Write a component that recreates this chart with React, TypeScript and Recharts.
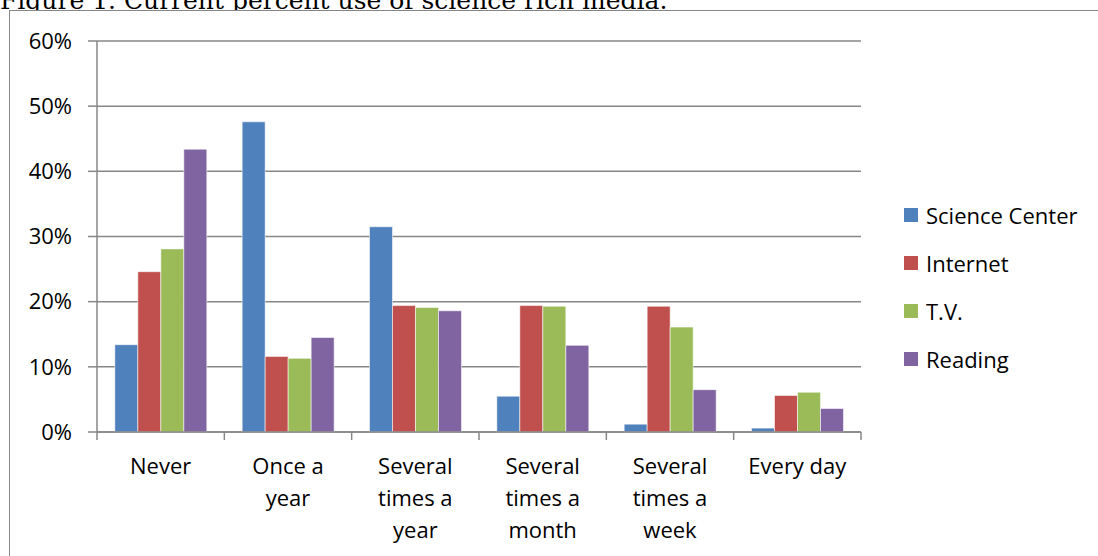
import { BarChart, Bar, XAxis, YAxis, CartesianGrid, Legend } from "recharts";

const categories = [
  "Never",
  "Once a year",
  "Several times a year",
  "Several times a month",
  "Several times a week",
  "Every day",
];
// label lines as wrapped in the original chart
const categoryLines = [
  ["Never"],
  ["Once a", "year"],
  ["Several", "times a", "year"],
  ["Several", "times a", "month"],
  ["Several", "times a", "week"],
  ["Every day"],
];

const scienceCenter = [13.4, 47.6, 31.5, 5.5, 1.2, 0.6];
const internet = [24.6, 11.6, 19.4, 19.4, 19.3, 5.6];
const tv = [28.1, 11.3, 19.1, 19.3, 16.1, 6.1];
const reading = [43.4, 14.5, 18.6, 13.3, 6.5, 3.6];

const yTicks = [0, 10, 20, 30, 40, 50, 60];

const series = [
  { key: "scienceCenter", name: "Science Center", color: "#4F81BD" },
  { key: "internet", name: "Internet", color: "#C0504D" },
  { key: "tv", name: "T.V.", color: "#9BBB59" },
  { key: "reading", name: "Reading", color: "#8064A2" },
];

const data = categories.map((c, i) => ({
  category: c,
  scienceCenter: scienceCenter[i],
  internet: internet[i],
  tv: tv[i],
  reading: reading[i],
}));

const FONT = "'Open Sans', Lato, sans-serif";
const GRAY = "#878787";

const XTick = (props: any) => {
  const { x, y, payload, index } = props;
  const half = payload.offset ?? 0;
  const lines = categoryLines[index] || [payload.value];
  return (
    <g>
      <line x1={x - half} x2={x - half} y1={y} y2={y + 8} stroke={GRAY} strokeWidth={1.5} />
      {index === categories.length - 1 && (
        <line x1={x + half} x2={x + half} y1={y} y2={y + 8} stroke={GRAY} strokeWidth={1.5} />
      )}
      <text x={x} y={y} textAnchor="middle" fontSize={22} fontFamily={FONT} fill="#000">
        {lines.map((l: string, i: number) => (
          <tspan key={i} x={x} dy={i === 0 ? 42 : 32}>
            {l}
          </tspan>
        ))}
      </text>
    </g>
  );
};

const LegendContent = () => (
  <div style={{ fontFamily: FONT, fontSize: 22, color: "#000" }}>
    {series.map((s) => (
      <div key={s.key} style={{ display: "flex", alignItems: "center", height: 48 }}>
        <span style={{ width: 14, height: 14, background: s.color, marginRight: 8, display: "inline-block" }} />
        <span>{s.name}</span>
      </div>
    ))}
  </div>
);

const App = () => {
  return (
    <div style={{ position: "fixed", left: 0, top: 0, width: 1098, height: 556, overflow: "hidden", background: "#fff" }}>
      <div
        style={{
          position: "absolute",
          left: 0,
          top: -12,
          fontFamily: "'DejaVu Serif', serif",
          fontSize: 25,
          lineHeight: "26px",
          whiteSpace: "nowrap",
          color: "#000",
        }}
      >
        Figure 1. Current percent use of science rich media.
      </div>
      <div
        style={{
          position: "absolute",
          left: 9,
          top: 10,
          width: 1100,
          height: 560,
          border: `1.5px solid ${GRAY}`,
          background: "#fff",
        }}
      />
      <div style={{ position: "absolute", left: 0, top: 0 }}>
        <BarChart
          width={1098}
          height={556}
          data={data}
          margin={{ top: 41, right: 237, bottom: 14, left: 37 }}
          barCategoryGap="14%"
          barGap={0}
        >
          <CartesianGrid vertical={false} stroke={GRAY} strokeWidth={1.5} />
          <XAxis
            dataKey="category"
            height={110}
            axisLine={{ stroke: GRAY, strokeWidth: 1.5 }}
            tickLine={false}
            tickSize={0}
            tickMargin={0}
            interval={0}
            tick={<XTick />}
          />
          <YAxis
            width={60}
            domain={[0, 60]}
            ticks={yTicks}
            interval={0}
            tickFormatter={(v) => `${v}%`}
            axisLine={{ stroke: GRAY, strokeWidth: 1.5 }}
            tickLine={{ stroke: GRAY, strokeWidth: 1.5 }}
            tickSize={9}
            tickMargin={16}
            tick={{ fontSize: 22, fontFamily: FONT, fill: "#000" }}
          />
          <Legend
            layout="horizontal"
            align="center"
            verticalAlign="middle"
            content={<LegendContent />}
            wrapperStyle={{ position: "absolute", left: 904, top: 191, width: 194 }}
          />
          {series.map((s) => (
            <Bar
              key={s.key}
              dataKey={s.key}
              name={s.name}
              fill={s.color}
              stroke="rgba(255,255,255,0.55)"
              strokeWidth={1}
              isAnimationActive={false}
            />
          ))}
        </BarChart>
      </div>
    </div>
  );
};

export default App;
